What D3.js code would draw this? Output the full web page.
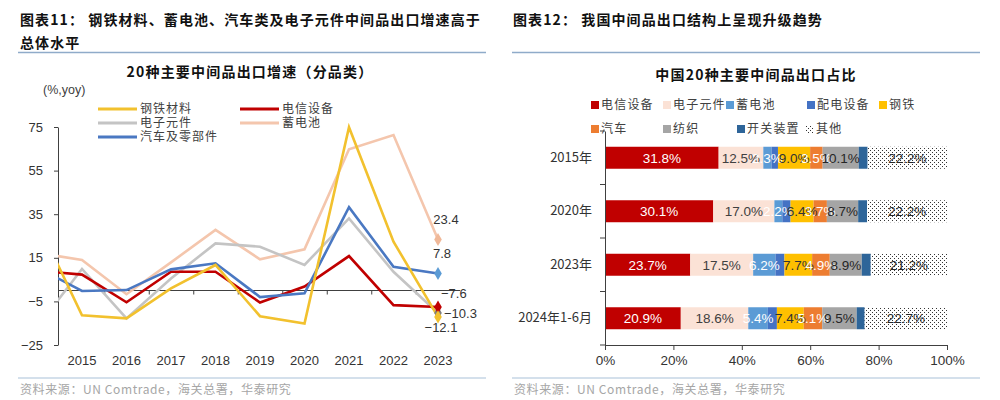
<!DOCTYPE html>
<html><head><meta charset="utf-8">
<script src="https://cdn.jsdelivr.net/npm/d3@7"></script>
<style>
body{margin:0;background:#fff}
svg{display:block}
.cjk{font-family:"Noto Sans CJK SC",sans-serif}
.num{font-family:"Liberation Sans",Arial,sans-serif}
</style>
</head><body>
<svg id="c" width="1000" height="400"></svg>
<script>
// ---------- Left chart data (growth, %, yoy) ----------
const years = [2014, 2015, 2016, 2017, 2018, 2019, 2020, 2021, 2022, 2023];
const yearLabels = [2015, 2016, 2017, 2018, 2019, 2020, 2021, 2022, 2023];
const steelGrowth      = [31.4, -11.4, -12.8, 1.0, 11.7, -11.8, -15.1, 74.9, 22.4, -12.1];
const telecomGrowth    = [9.1, 7.3, -5.4, 8.6, 8.6, -5.5, 1.8, 15.8, -6.7, -7.6];
const electronicGrowth = [-16.6, 9.9, -12.8, 5.5, 21.6, 20.1, 11.7, 33.1, 8.6, -10.3];
const batteryGrowth    = [17.3, 14.0, -1.7, 12.9, 27.8, 14.3, 18.9, 64.8, 71.3, 23.4];
const autoGrowth       = [10.5, -0.2, 0.2, 9.7, 12.5, -3.0, -1.3, 38.2, 10.9, 7.8];
const growthTicks = [-25, -5, 15, 35, 55, 75];

// ---------- Right chart data (share, %) ----------
const shareCats = ['2015年', '2020年', '2023年', '2024年1-6月'];
const telecomShare    = [31.8, 30.1, 23.7, 20.9];
const electronicShare = [12.5, 17.0, 17.5, 18.6];
const batteryShare    = [2.3, 2.2, 6.2, 5.4];
const powerShare      = [1.8, 2.3, 2.5, 2.5];
const steelShare      = [9.0, 6.4, 7.7, 7.4];
const autoShare       = [3.5, 3.7, 4.9, 5.1];
const textileShare    = [10.1, 8.7, 8.9, 9.5];
const switchShare     = [2.5, 2.5, 2.5, 2.2];
const otherShare      = [22.2, 22.2, 21.2, 22.7];
const shareTicks = [0, 0.2, 0.4, 0.6, 0.8, 1];

const svg = d3.select('#c');
const defs = svg.append('defs');

// ---------- Headings & rules ----------
function heading(x, lines) {
  lines.forEach((t, i) => {
    svg.append('text').attr('class', 'cjk').attr('x', x).attr('y', 25 + i * 23)
      .attr('font-size', 14).attr('font-weight', 'bold').attr('fill', '#111')
      .attr('letter-spacing', 1.1).text(t);
  });
}
heading(20, ['图表11：  钢铁材料、蓄电池、汽车类及电子元件中间品出口增速高于', '总体水平']);
heading(513, ['图表12：  我国中间品出口结构上呈现升级趋势']);
[[18, 486], [512, 980]].forEach(([a, b]) => {
  svg.append('line').attr('x1', a).attr('x2', b).attr('y1', 52.5).attr('y2', 52.5)
    .attr('stroke', '#8fabc9').attr('stroke-width', 1.5);
  svg.append('line').attr('x1', a).attr('x2', b).attr('y1', 378).attr('y2', 378)
    .attr('stroke', '#a9c1d8').attr('stroke-width', 1);
  svg.append('text').attr('class', 'cjk').attr('x', a + 2).attr('y', 394)
    .attr('font-size', 12).attr('fill', '#a6a6a6').attr('letter-spacing', 0.6)
    .text('资料来源：UN Comtrade，海关总署，华泰研究');
});

// ---------- Left chart ----------
const L = svg.append('g');
L.append('text').attr('class', 'cjk').attr('x', 250).attr('y', 77).attr('text-anchor', 'middle')
  .attr('font-size', 14).attr('font-weight', 'bold').attr('fill', '#111').attr('letter-spacing', 1.2)
  .text('20种主要中间品出口增速（分品类）');
L.append('text').attr('class', 'num').attr('x', 43).attr('y', 94).attr('font-size', 12.5)
  .attr('fill', '#404040').text('(%,yoy)');

const plotLeft = 58;
const x = d3.scaleLinear().domain([2014, 2023]).range([37.5, 438]);
const y = d3.scaleLinear().domain([-25, 75]).range([345, 127]);

const yAx = L.append('g').attr('transform', `translate(${plotLeft},0)`)
  .call(d3.axisLeft(y).tickValues(growthTicks).tickSize(4).tickSizeOuter(0).tickPadding(11));
yAx.selectAll('path,line').attr('stroke', '#404040');
yAx.selectAll('text').attr('class', 'num').attr('font-size', 13).attr('fill', '#333');

// zero axis with tick marks between categories
const zeroAx = L.append('g').attr('transform', `translate(0,${y(0)})`)
  .call(d3.axisBottom(x).tickValues(yearLabels.slice(0, -1).map(v => v + 0.5)).tickSize(4).tickFormat(''));
zeroAx.select('.domain').remove();
zeroAx.selectAll('line').attr('stroke', '#404040');
L.append('line').attr('x1', plotLeft).attr('x2', x(2023.5)).attr('y1', y(0)).attr('y2', y(0))
  .attr('stroke', '#404040').attr('stroke-width', 1);

L.selectAll('.yl').data(yearLabels).join('text').attr('class', 'num')
  .attr('x', d => x(d)).attr('y', 365).attr('text-anchor', 'middle')
  .attr('font-size', 13).attr('fill', '#333').text(d => d);

defs.append('clipPath').attr('id', 'lclip').append('rect')
  .attr('x', plotLeft).attr('y', 100).attr('width', 420).attr('height', 260);

const series = [
  {name: '蓄电池', vals: batteryGrowth, color: '#f4c6ad', mk: '#f0b898'},
  {name: '电子元件', vals: electronicGrowth, color: '#c4c4c4', mk: '#7f7f7f'},
  {name: '电信设备', vals: telecomGrowth, color: '#c00000', mk: '#c00000'},
  {name: '汽车及零部件', vals: autoGrowth, color: '#4a78c2', mk: '#5b9bd5'},
  {name: '钢铁材料', vals: steelGrowth, color: '#f2c12e', mk: '#f2c12e'}
];
const line = d3.line().x((d, i) => x(years[i])).y(d => y(d));
const lg = L.append('g').attr('clip-path', 'url(#lclip)');
series.forEach(s => {
  lg.append('path').attr('d', line(s.vals)).attr('fill', 'none')
    .attr('stroke', s.color).attr('stroke-width', 2.6).attr('stroke-linejoin', 'miter');
});
const diamond = d3.symbol().type(d3.symbolDiamond).size(50);
series.forEach(s => {
  const v = s.vals[s.vals.length - 1];
  L.append('path').attr('d', diamond).attr('fill', s.mk)
    .attr('transform', `translate(${x(2023)},${y(v)})`);
});
// end labels
const endLab = [
  {v: batteryGrowth[9], dx: 8, dy: -20, anchor: 'middle'},
  {v: autoGrowth[9], dx: 4, dy: -20, anchor: 'middle'},
  {v: telecomGrowth[9], dx: 3, dy: -14, anchor: 'start'},
  {v: electronicGrowth[9], dx: 6, dy: 0, anchor: 'start'},
  {v: steelGrowth[9], dx: 3, dy: 11, anchor: 'middle'}
];
endLab.forEach(e => {
  L.append('text').attr('class', 'num').attr('x', x(2023) + e.dx).attr('y', y(e.v) + e.dy)
    .attr('dy', '0.35em').attr('text-anchor', e.anchor).attr('font-size', 13)
    .attr('fill', '#333').text(d3.format('.1f')(e.v));
});

// left legend
const legL = [
  {s: 4, x: 98, y: 109}, {s: 2, x: 240, y: 109},
  {s: 1, x: 98, y: 123}, {s: 0, x: 240, y: 123},
  {s: 3, x: 98, y: 137}
];
legL.forEach(l => {
  const s = series[l.s];
  L.append('line').attr('x1', l.x).attr('x2', l.x + 39).attr('y1', l.y).attr('y2', l.y)
    .attr('stroke', s.color).attr('stroke-width', 3);
  L.append('text').attr('class', 'cjk').attr('x', l.x + 42).attr('y', l.y).attr('dy', '0.35em')
    .attr('font-size', 12).attr('letter-spacing', 1).attr('fill', '#404040').text(s.name);
});

// ---------- Right chart ----------
const R = svg.append('g');
R.append('text').attr('class', 'cjk').attr('x', 756).attr('y', 80).attr('text-anchor', 'middle')
  .attr('font-size', 14).attr('font-weight', 'bold').attr('fill', '#111').attr('letter-spacing', 1.2)
  .text('中国20种主要中间品出口占比');

const pat = defs.append('pattern').attr('id', 'dots').attr('patternUnits', 'userSpaceOnUse')
  .attr('width', 4).attr('height', 4);
pat.append('rect').attr('width', 4).attr('height', 4).attr('fill', '#fff');
pat.append('rect').attr('x', 0).attr('y', 0).attr('width', 1).attr('height', 1).attr('fill', '#333');
pat.append('rect').attr('x', 2).attr('y', 2).attr('width', 1).attr('height', 1).attr('fill', '#333');

const shareSeries = [
  {key: '电信设备', vals: telecomShare, color: '#c00000', lab: '#fff'},
  {key: '电子元件', vals: electronicShare, color: '#fbe2d6', lab: '#404040'},
  {key: '蓄电池', vals: batteryShare, color: '#5b9bd5', lab: '#fff'},
  {key: '配电设备', vals: powerShare, color: '#4472c4', lab: null},
  {key: '钢铁', vals: steelShare, color: '#ffc000', lab: '#333'},
  {key: '汽车', vals: autoShare, color: '#ed7d31', lab: '#fff'},
  {key: '纺织', vals: textileShare, color: '#a5a5a5', lab: '#262626'},
  {key: '开关装置', vals: switchShare, color: '#2e6599', lab: null},
  {key: '其他', vals: otherShare, color: 'url(#dots)', lab: '#262626'}
];
const rows = shareCats.map((c, i) => {
  const o = {cat: c};
  shareSeries.forEach(s => o[s.key] = s.vals[i]);
  return o;
});
const stack = d3.stack().keys(shareSeries.map(s => s.key)).offset(d3.stackOffsetExpand)(rows);

const xB = d3.scaleLinear().domain([0, 1]).range([605, 947]);
const yB = d3.scaleBand().domain(shareCats).range([131, 345]).paddingInner(0.589).paddingOuter(0.2945);

stack.forEach((layer, k) => {
  const s = shareSeries[k];
  R.append('g').selectAll('rect').data(layer).join('rect')
    .attr('x', d => xB(d[0])).attr('width', d => xB(d[1]) - xB(d[0]))
    .attr('y', d => yB(d.data.cat)).attr('height', yB.bandwidth())
    .attr('fill', s.color);
});
stack.forEach((layer, k) => {
  const s = shareSeries[k];
  if (!s.lab) return;
  R.append('g').selectAll('text').data(layer).join('text').attr('class', 'num')
    .attr('x', d => (xB(d[0]) + xB(d[1])) / 2).attr('y', d => yB(d.data.cat) + yB.bandwidth() / 2)
    .attr('dy', '0.36em').attr('text-anchor', 'middle').attr('font-size', 13.5)
    .attr('fill', s.lab).text(d => d3.format('.1f')(d.data[s.key]) + '%');
});

const xAx = R.append('g').attr('transform', 'translate(0,345)')
  .call(d3.axisBottom(xB).tickValues(shareTicks).tickFormat(d3.format('.0%')).tickSize(5).tickSizeOuter(0).tickPadding(5));
xAx.selectAll('path,line').attr('stroke', '#404040');
xAx.selectAll('text').attr('class', 'num').attr('font-size', 13.5).attr('fill', '#333');

const yAxB = R.append('g').attr('transform', 'translate(605,0)')
  .call(d3.axisLeft(yB).tickSize(0).tickPadding(13));
yAxB.select('.domain').attr('stroke', '#404040');
yAxB.selectAll('text').attr('class', 'cjk').attr('font-size', 13).attr('fill', '#333');
// category boundary ticks
const bounds = shareCats.map(c => yB(c) - yB.step() * yB.paddingInner() / 2).concat([345]);
R.selectAll('.bt').data(bounds).join('line').attr('x1', 600).attr('x2', 605)
  .attr('y1', d => d).attr('y2', d => d).attr('stroke', '#404040');

// right legend
const legPos = [[591, 105], [663, 105], [726, 105], [807, 105], [879, 105],
                [591, 129], [663, 129], [737, 129], [806, 129]];
const legOrder = [0, 1, 2, 3, 4, 5, 6, 7, 8];
legOrder.forEach((k, i) => {
  const s = shareSeries[k];
  const [lx, ly] = legPos[i];
  R.append('rect').attr('x', lx).attr('y', ly - 4).attr('width', 8).attr('height', 8)
    .attr('fill', s.color);
  R.append('text').attr('class', 'cjk').attr('x', lx + 10).attr('y', ly).attr('dy', '0.35em')
    .attr('font-size', 12).attr('letter-spacing', 1.2).attr('fill', '#404040').text(s.key);
});
</script>
</body></html>
